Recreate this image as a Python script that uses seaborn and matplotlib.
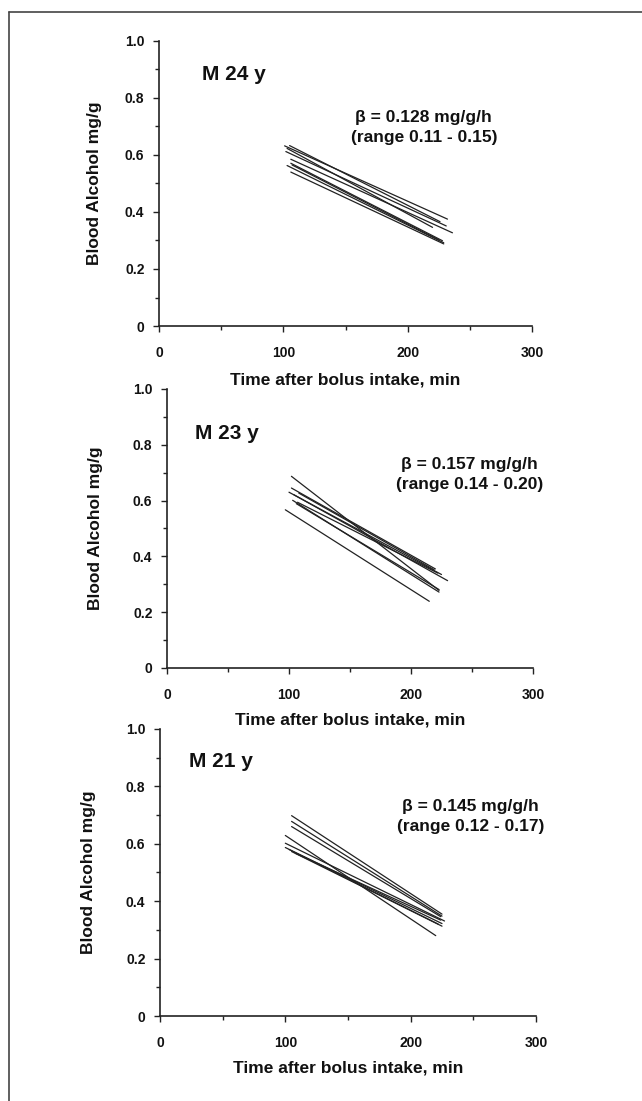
import matplotlib
matplotlib.use("Agg")
import matplotlib.pyplot as plt
from matplotlib.lines import Line2D
from matplotlib.ticker import MultipleLocator
import seaborn as sns
import pandas as pd
import numpy as np

# data: each regression line as (start time, end time, start conc, end conc)
panels = ["M 24 y", "M 23 y", "M 21 y"]
beta_text = ["\u03b2 = 0.128 mg/g/h\n(range 0.11 - 0.15)",
             "\u03b2 = 0.157 mg/g/h\n(range 0.14 - 0.20)",
             "\u03b2 = 0.145 mg/g/h\n(range 0.12 - 0.17)"]

t0_24 = [101, 105, 102, 103, 106, 106, 103, 106, 107]
t1_24 = [232, 226, 231, 220, 236, 228, 229, 229, 225]
v0_24 = [0.632, 0.633, 0.612, 0.623, 0.585, 0.571, 0.563, 0.540, 0.565]
v1_24 = [0.375, 0.366, 0.351, 0.346, 0.327, 0.299, 0.292, 0.288, 0.302]

t0_23 = [102, 97, 102, 100, 104, 103, 107, 106, 108]
t1_23 = [223, 215, 220, 225, 230, 223, 222, 223, 219]
v0_23 = [0.687, 0.567, 0.645, 0.630, 0.621, 0.601, 0.594, 0.589, 0.627]
v1_23 = [0.278, 0.239, 0.355, 0.335, 0.313, 0.272, 0.340, 0.281, 0.352]

t0_21 = [105, 105, 105, 100, 100, 100, 105, 108, 103]
t1_21 = [225, 225, 224, 220, 227, 225, 225, 224, 222]
v0_21 = [0.698, 0.678, 0.660, 0.629, 0.602, 0.587, 0.573, 0.567, 0.580]
v1_21 = [0.355, 0.348, 0.346, 0.280, 0.331, 0.322, 0.313, 0.334, 0.320]

series = [(t0_24, t1_24, v0_24, v1_24),
          (t0_23, t1_23, v0_23, v1_23),
          (t0_21, t1_21, v0_21, v1_21)]

sns.set_style("ticks")
plt.rcParams['font.family'] = ['Liberation Sans', 'DejaVu Sans']
plt.rcParams['font.weight'] = 'bold'

fig = plt.figure(figsize=(6.42, 11.01), dpi=100)

# axes boxes (figure fraction) and text positions
boxes = [[0.2477, 0.7039, 0.581, 0.2589],
         [0.2601, 0.3933, 0.5701, 0.2534],
         [0.2492, 0.0772, 0.5857, 0.2607]]
name_pos = [(34.6, 0.881), (23, 0.842), (23, 0.885)]
beta_pos = [(213, 0.695), (248, 0.694), (248, 0.694)]
xlab_y = [-0.189, -0.186, -0.181]
ylab_x = [-0.172, -0.195, -0.19]

ink = '#222222'
for i, (t0, t1, v0, v1) in enumerate(series):
    ax = fig.add_axes(boxes[i])
    rows = []
    for k in range(len(t0)):
        rows.append({'subject': k, 't': t0[k], 'v': v0[k]})
        rows.append({'subject': k, 't': t1[k], 'v': v1[k]})
    df = pd.DataFrame(rows)
    sns.lineplot(data=df, x='t', y='v', units='subject', estimator=None,
                 color=ink, lw=0.9, ax=ax, legend=False)

    ax.set_xlim(0, 300)
    ax.set_ylim(0, 1.0)
    ax.set_xticks([0, 100, 200, 300])
    ax.set_yticks([0, 0.2, 0.4, 0.6, 0.8, 1.0])
    ax.set_yticklabels(['0', '0.2', '0.4', '0.6', '0.8', '1.0'])
    ax.xaxis.set_minor_locator(MultipleLocator(50))
    ax.yaxis.set_minor_locator(MultipleLocator(0.1))
    ax.tick_params(which='major', length=4.5, width=1, color=ink,
                   labelsize=10, labelcolor='#111111')
    ax.tick_params(which='minor', length=3, width=1, color=ink)
    ax.tick_params(axis='x', which='major', pad=10)
    ax.tick_params(axis='y', which='major', pad=6)
    for lab in ax.get_xticklabels() + ax.get_yticklabels():
        lab.set_fontweight('bold')
    sns.despine(ax=ax)
    for s in ['left', 'bottom']:
        ax.spines[s].set_color(ink)
        ax.spines[s].set_linewidth(1.2)
    ax.patch.set_alpha(0)

    ax.set_xlabel('Time after bolus intake, min', fontsize=12.5,
                  fontweight='bold', va='center', color='#111111')
    ax.xaxis.set_label_coords(0.5, xlab_y[i])
    ax.set_ylabel('Blood Alcohol mg/g', fontsize=12.5, fontweight='bold',
                  va='center', color='#111111')
    ax.yaxis.set_label_coords(ylab_x[i], 0.5)

    ax.text(name_pos[i][0], name_pos[i][1], panels[i], fontsize=15,
            fontweight='bold', ha='left', va='center', color='#111111')
    ax.text(beta_pos[i][0], beta_pos[i][1], beta_text[i], fontsize=12.5,
            fontweight='bold', ha='center', va='center', color='#111111',
            linespacing=1.4)

# outer frame (left and top edges)
fig.add_artist(Line2D([9 / 642, 9 / 642], [0, 1 - 12 / 1101],
                      transform=fig.transFigure, color='#444444', lw=1.2))
fig.add_artist(Line2D([9 / 642, 1], [1 - 12 / 1101, 1 - 12 / 1101],
                      transform=fig.transFigure, color='#444444', lw=1.2))

fig.savefig('out.png', dpi=100)
